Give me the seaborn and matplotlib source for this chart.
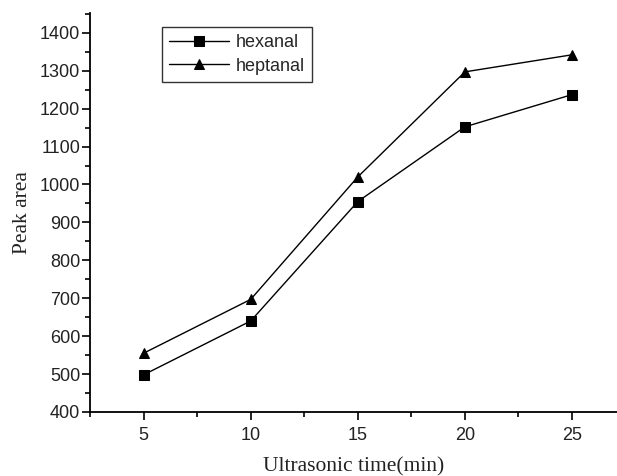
import matplotlib
matplotlib.use("Agg")
import matplotlib.pyplot as plt
import seaborn as sns
import pandas as pd
from matplotlib.ticker import MultipleLocator

times = [5, 10, 15, 20, 25]
hexanal = [498, 640, 955, 1152, 1237]
heptanal = [555, 697, 1020, 1297, 1342]
series_names = ["hexanal", "heptanal"]

df = pd.DataFrame({
    "time": times * 2,
    "area": hexanal + heptanal,
    "compound": [series_names[0]] * len(times) + [series_names[1]] * len(times),
})

sns.set_theme(style="ticks")
plt.rcParams["font.family"] = ["Liberation Sans", "DejaVu Sans"]

fig = plt.figure(figsize=(6.17, 4.76), dpi=100)
ax = fig.add_axes([0.146, 0.1345, 0.854, 0.838])

sns.lineplot(data=df, x="time", y="area", hue="compound", style="compound",
             palette={"hexanal": "black", "heptanal": "black"},
             markers={"hexanal": "s", "heptanal": "^"}, dashes=False,
             markersize=6.5, linewidth=1.0, markeredgecolor="black", ax=ax)

ax.set_xlim(2.5, 27.1)
ax.set_ylim(400, 1452)
ax.xaxis.set_major_locator(MultipleLocator(5))
ax.xaxis.set_minor_locator(MultipleLocator(2.5))
ax.yaxis.set_major_locator(MultipleLocator(100))
ax.yaxis.set_minor_locator(MultipleLocator(50))
ax.tick_params(axis="both", which="major", direction="out", length=6, width=1.2,
               labelsize=13, color="black", labelcolor="#222222", pad=1)
ax.tick_params(axis="both", which="minor", direction="out", length=3.5, width=1.2, color="black")
ax.tick_params(axis="x", pad=5)
for s in ["top", "right"]:
    ax.spines[s].set_visible(False)
for s in ["left", "bottom"]:
    ax.spines[s].set_linewidth(1.3)
    ax.spines[s].set_color("black")

ax.set_xlabel("Ultrasonic time(min)", fontfamily="Liberation Serif", fontsize=15.5, labelpad=9, color="#222222")
ax.set_ylabel("Peak area", fontfamily="Liberation Serif", fontsize=15.5, labelpad=6, color="#222222")

leg = ax.legend(loc="upper left", bbox_to_anchor=(0.137, 0.965), frameon=True, fancybox=False,
                edgecolor="black", fontsize=13, handlelength=3.3, borderpad=0.4,
                labelspacing=0.35, handletextpad=0.35, borderaxespad=0)
leg.get_frame().set_linewidth(1.0)
leg.set_title(None)

fig.savefig("out.png", dpi=100)
